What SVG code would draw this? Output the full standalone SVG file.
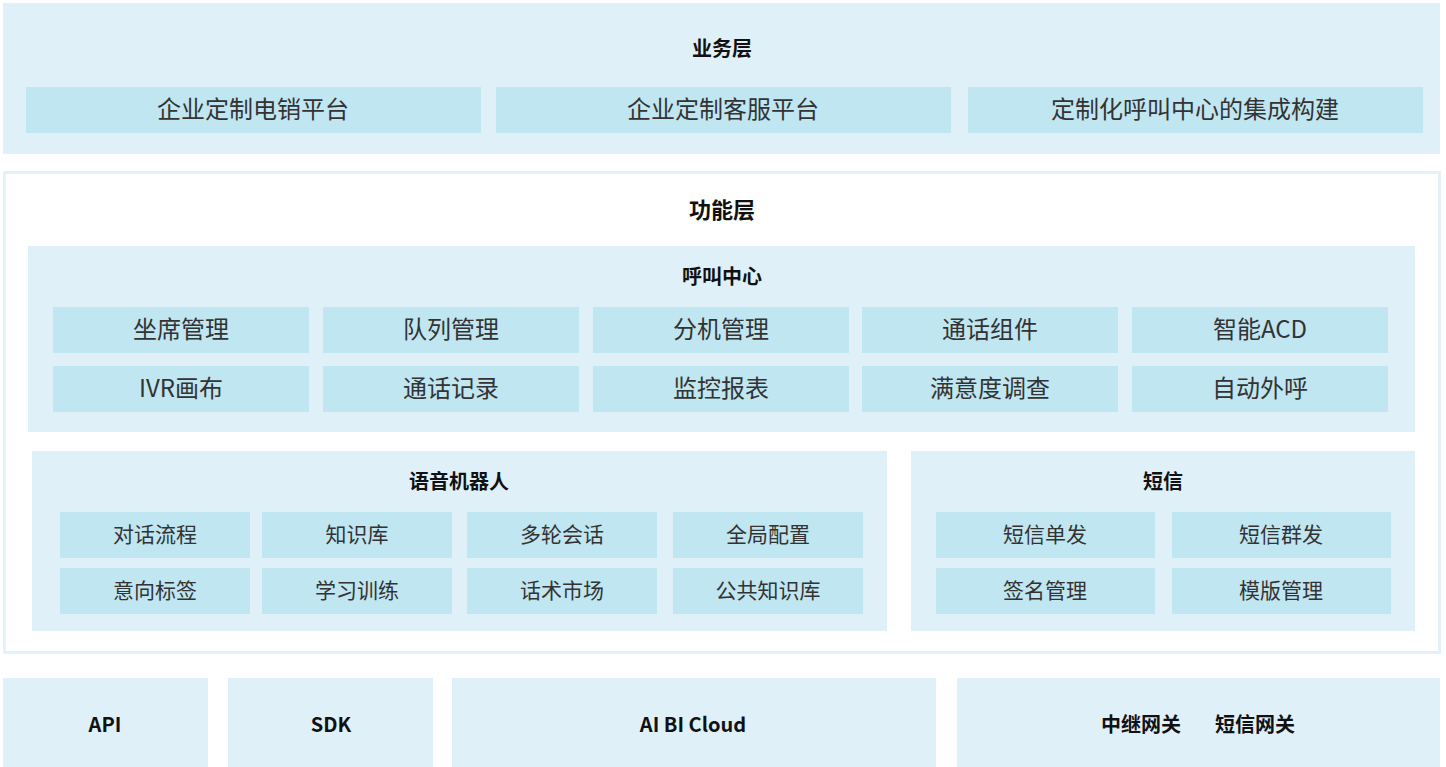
<svg xmlns="http://www.w3.org/2000/svg" width="1446" height="767" viewBox="0 0 1446 767">
<style>
.bg{fill:#dff0f9}
.it{fill:#c0e6f1}
.t{font-family:"Noto Sans CJK SC","Noto Sans",sans-serif;text-anchor:middle;dominant-baseline:central}
.ti{font-weight:bold;fill:#111;font-size:20px}
.i24{fill:#333;font-size:24px}
.i22{fill:#333;font-size:21px}
.bt{font-weight:bold;fill:#111;font-size:20px}
</style>
<rect width="1446" height="767" fill="#ffffff"/>
<g id="business">
<rect class="bg" x="3" y="3" width="1437" height="151"/>
<text class="t ti" x="722" y="47">业务层</text>
<rect class="it" x="26" y="87" width="455" height="46"/>
<text class="t i24" x="253" y="107">企业定制电销平台</text>
<rect class="it" x="496" y="87" width="455" height="46"/>
<text class="t i24" x="723" y="107">企业定制客服平台</text>
<rect class="it" x="968" y="87" width="455" height="46"/>
<text class="t i24" x="1195" y="107">定制化呼叫中心的集成构建</text>
</g>
<g id="function">
<rect x="4.5" y="172.5" width="1435" height="480" fill="#ffffff" stroke="#e3f1fa" stroke-width="3"/>
<text class="t ti" x="722" y="208" style="font-size:22px">功能层</text>
</g>
<g id="callcenter">
<rect class="bg" x="28" y="246" width="1387" height="186"/>
<text class="t ti" x="722" y="275">呼叫中心</text>
<rect class="it" x="53" y="307" width="256" height="46"/><text class="t i24" x="181" y="327">坐席管理</text>
<rect class="it" x="323" y="307" width="256" height="46"/><text class="t i24" x="451" y="327">队列管理</text>
<rect class="it" x="593" y="307" width="256" height="46"/><text class="t i24" x="721" y="327">分机管理</text>
<rect class="it" x="862" y="307" width="256" height="46"/><text class="t i24" x="990" y="327">通话组件</text>
<rect class="it" x="1132" y="307" width="256" height="46"/><text class="t i24" x="1260" y="327">智能ACD</text>
<rect class="it" x="53" y="366" width="256" height="46"/><text class="t i24" x="181" y="386">IVR画布</text>
<rect class="it" x="323" y="366" width="256" height="46"/><text class="t i24" x="451" y="386">通话记录</text>
<rect class="it" x="593" y="366" width="256" height="46"/><text class="t i24" x="721" y="386">监控报表</text>
<rect class="it" x="862" y="366" width="256" height="46"/><text class="t i24" x="990" y="386">满意度调查</text>
<rect class="it" x="1132" y="366" width="256" height="46"/><text class="t i24" x="1260" y="386">自动外呼</text>
</g>
<g id="voicebot">
<rect class="bg" x="32" y="451" width="855" height="180"/>
<text class="t ti" x="459" y="480">语音机器人</text>
<rect class="it" x="60" y="512" width="190" height="46"/><text class="t i22" x="155" y="533">对话流程</text>
<rect class="it" x="262" y="512" width="190" height="46"/><text class="t i22" x="357" y="533">知识库</text>
<rect class="it" x="467" y="512" width="190" height="46"/><text class="t i22" x="562" y="533">多轮会话</text>
<rect class="it" x="673" y="512" width="190" height="46"/><text class="t i22" x="768" y="533">全局配置</text>
<rect class="it" x="60" y="568" width="190" height="46"/><text class="t i22" x="155" y="589">意向标签</text>
<rect class="it" x="262" y="568" width="190" height="46"/><text class="t i22" x="357" y="589">学习训练</text>
<rect class="it" x="467" y="568" width="190" height="46"/><text class="t i22" x="562" y="589">话术市场</text>
<rect class="it" x="673" y="568" width="190" height="46"/><text class="t i22" x="768" y="589">公共知识库</text>
</g>
<g id="sms">
<rect class="bg" x="911" y="451" width="504" height="180"/>
<text class="t ti" x="1163" y="480">短信</text>
<rect class="it" x="936" y="512" width="219" height="46"/><text class="t i22" x="1045" y="533">短信单发</text>
<rect class="it" x="1172" y="512" width="219" height="46"/><text class="t i22" x="1281" y="533">短信群发</text>
<rect class="it" x="936" y="568" width="219" height="46"/><text class="t i22" x="1045" y="589">签名管理</text>
<rect class="it" x="1172" y="568" width="219" height="46"/><text class="t i22" x="1281" y="589">模版管理</text>
</g>
<g id="api">
<rect class="bg" x="3" y="678" width="205" height="89"/>
<text class="t bt" x="105" y="723">API</text>
</g>
<g id="sdk">
<rect class="bg" x="228" y="678" width="205" height="89"/>
<text class="t bt" x="331" y="723">SDK</text>
</g>
<g id="aibi">
<rect class="bg" x="452" y="678" width="484" height="89"/>
<text class="t bt" x="693" y="723">AI BI Cloud</text>
</g>
<g id="gateway">
<rect class="bg" x="957" y="678" width="483" height="89"/>
<text class="t bt" x="1141" y="723">中继网关</text>
<text class="t bt" x="1255" y="723">短信网关</text>
</g>
<g id="connectors"></g>
</svg>
